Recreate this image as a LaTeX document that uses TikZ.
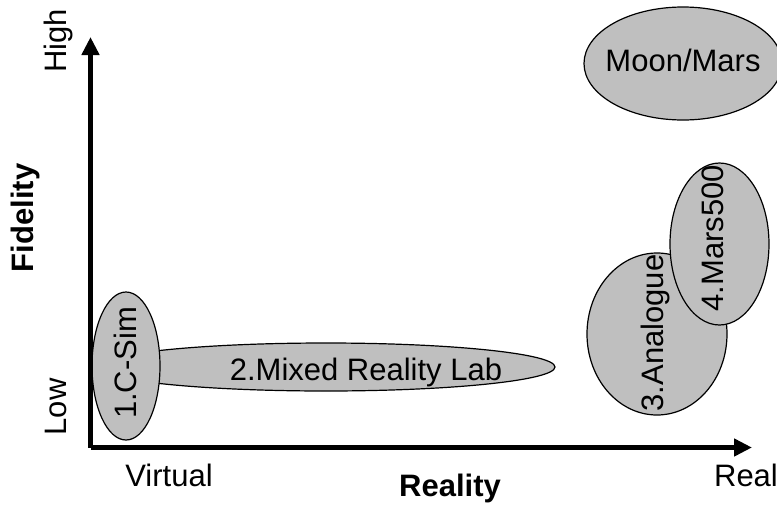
\documentclass[tikz,border=0pt]{standalone}
\usepackage{fontspec}
\setmainfont{Liberation Sans}
\usetikzlibrary{shapes.geometric,arrows.meta}
\tikzset{
  blob/.style={ellipse, draw=black, line width=1.2pt, fill=black!25, inner sep=0pt},
  lbl/.style={inner sep=0pt, font=\fontsize{31}{35}\selectfont},
  blbl/.style={inner sep=0pt, font=\fontsize{31}{35}\selectfont\bfseries},
  axis/.style={line width=5pt, -{Triangle[length=18pt,width=17pt]}}
}
\begin{document}
\begin{tikzpicture}[x=1pt,y=-1pt]
\useasboundingbox (0,0) rectangle (777,504);
\clip (0,0) rectangle (777,504);
% ellipses
\node[blob, minimum width=458pt, minimum height=48pt] (mix) at (326,367) {};
\node[blob, minimum width=68pt, minimum height=148pt] (csim) at (126,366) {};
\node[blob, minimum width=140pt, minimum height=162pt] (ana) at (657,334) {};
\node[blob, minimum width=99pt, minimum height=162pt] (mars) at (719.5,244) {};
\node[blob, minimum width=198pt, minimum height=113pt] (moon) at (683,63.5) {};
% texts in ellipses
\node[lbl, anchor=base] (tmix) at (366,380) {2.Mixed Reality Lab};
\node[lbl, rotate=90] (tcsim) at (125,363) {1.C-Sim};
\node[lbl, rotate=90] (tana) at (655,333) {3.Analogue};
\node[lbl, rotate=90] (tmars) at (713,238) {4.Mars500};
\node[lbl, anchor=base] (tmoon) at (683,71) {Moon/Mars};
% axes
\coordinate (o) at (90.5,447.5);
\coordinate (ytip) at (90.5,37);
\coordinate (xtip) at (752,447.5);
\draw[axis] (o) -- (ytip);
\draw[axis] (o) -- (xtip);
% axis labels
\node[lbl, rotate=90] (high) at (58,41) {High};
\node[lbl, rotate=90] (low) at (56,407) {Low};
\node[blbl, rotate=90] (fid) at (25,218) {Fidelity};
\node[lbl, anchor=base] (virt) at (169,486) {Virtual};
\node[lbl, anchor=base] (real) at (746,486) {Real};
\node[blbl, anchor=base] (reality) at (450,496) {Reality};
\end{tikzpicture}
\end{document}
